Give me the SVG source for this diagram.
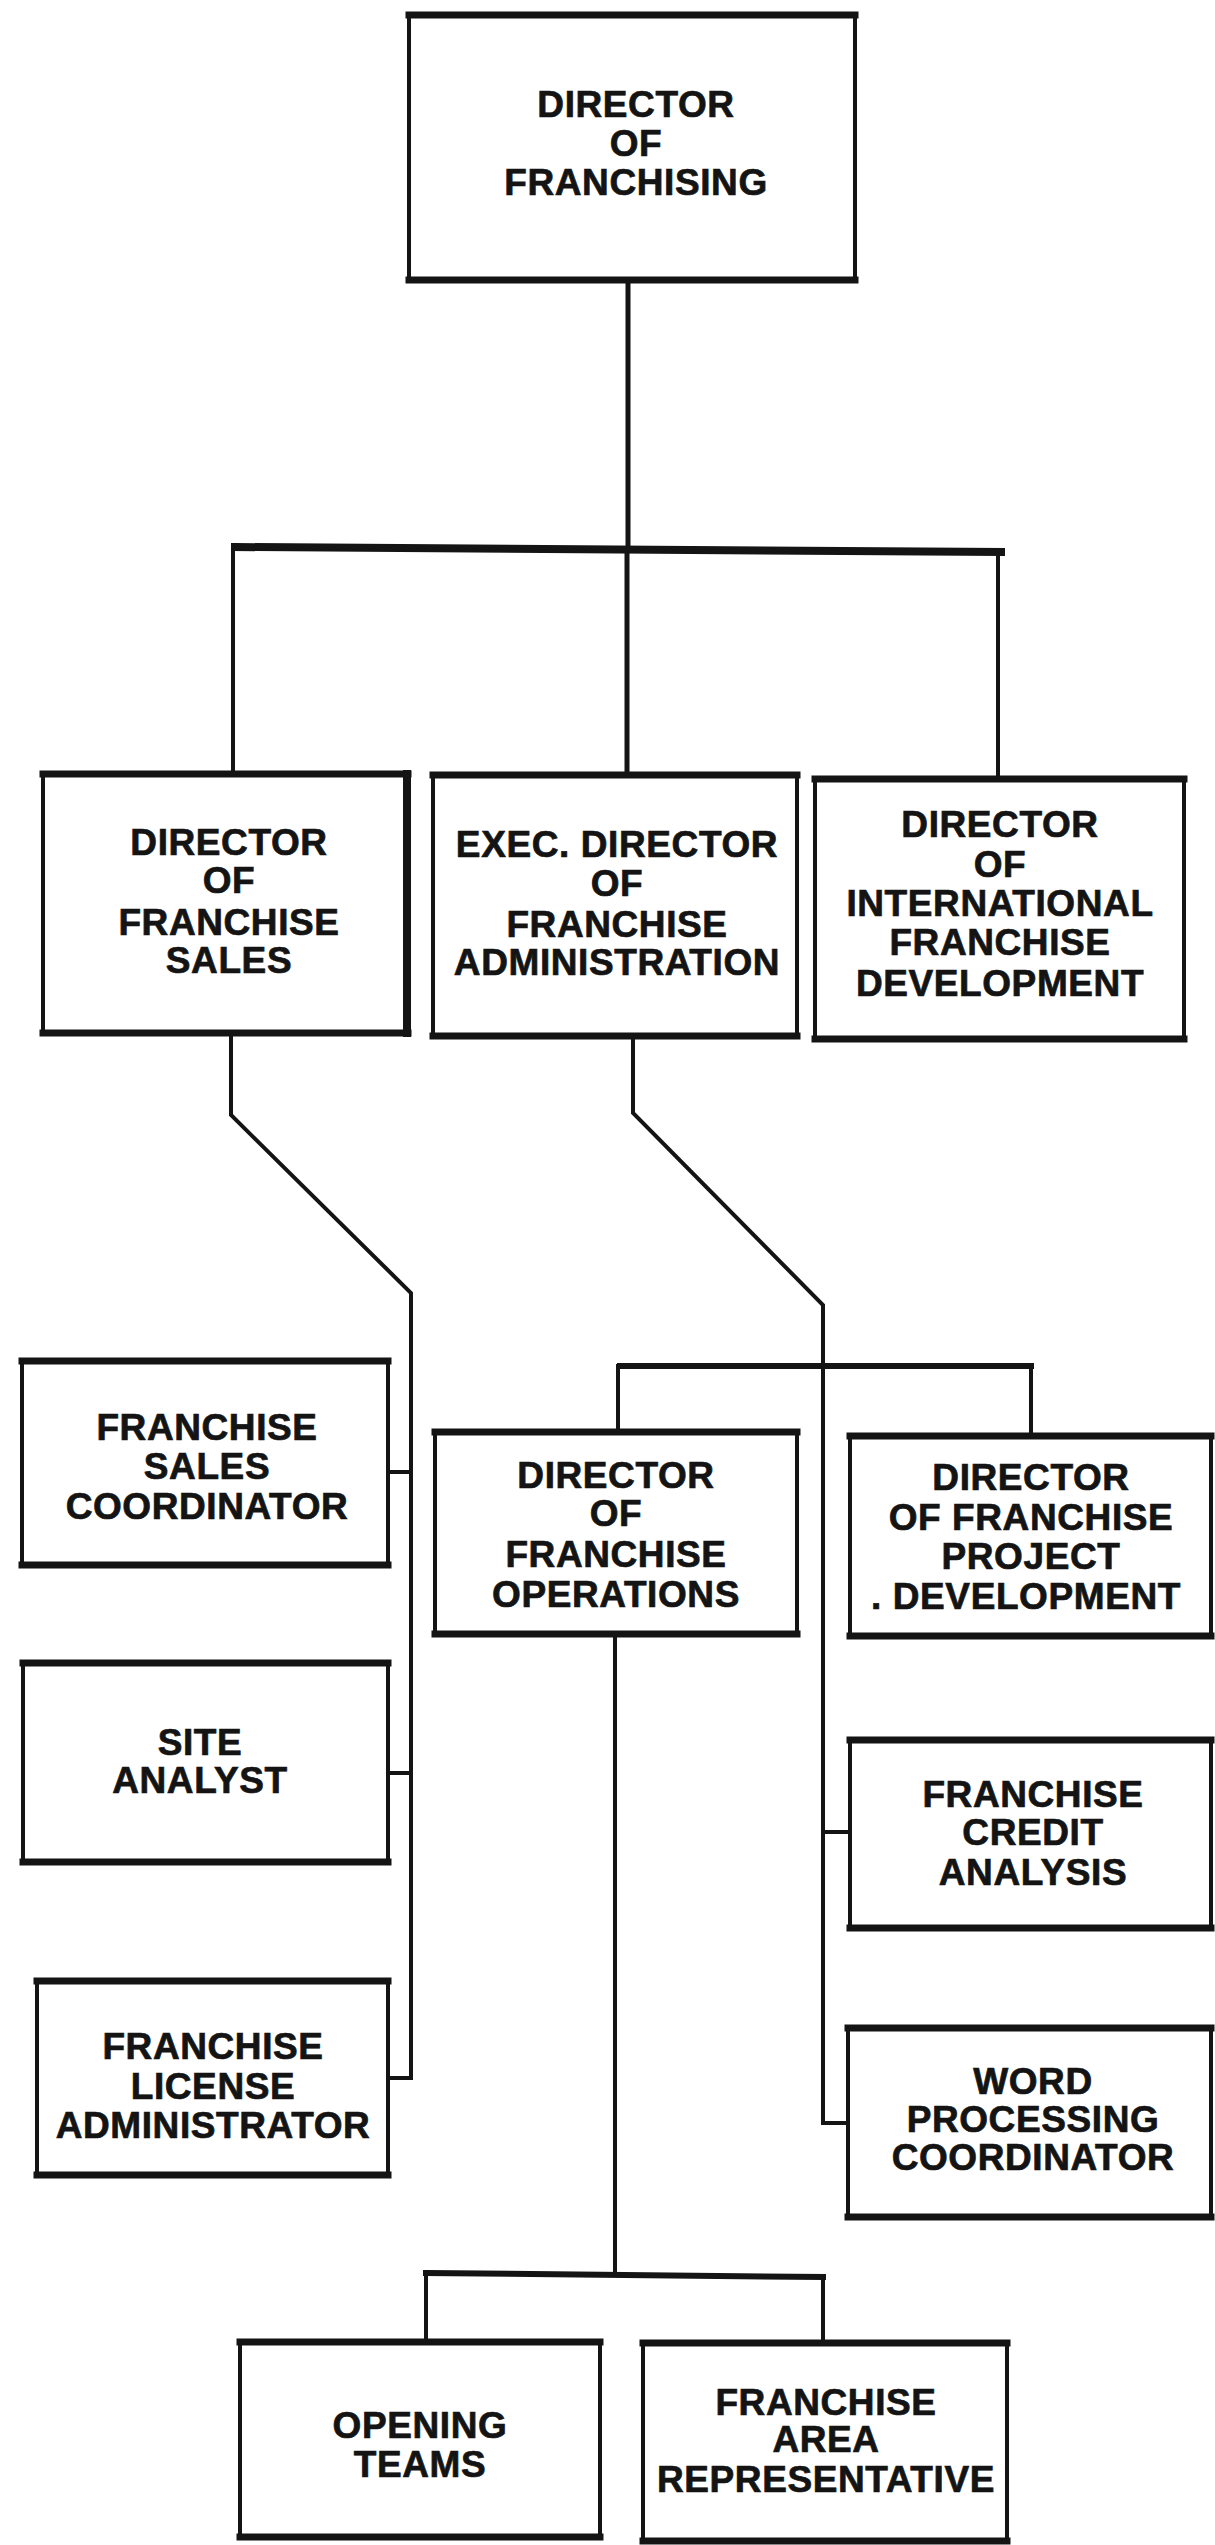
<svg xmlns="http://www.w3.org/2000/svg" width="1215" height="2545" viewBox="0 0 1215 2545">
  <style>
    .box rect { fill: #ffffff; stroke: #141414; stroke-width: 4; }
    .box .edge { fill: none; stroke: #141414; stroke-width: 7; stroke-linecap: square; }
    .box text { font-family: "Liberation Sans", Arial, Helvetica, sans-serif; font-weight: bold; font-size: 37px; letter-spacing: 0.6px; fill: #141414; stroke: #141414; stroke-width: 0.7; text-anchor: middle; }
    .wire { fill: none; stroke: #141414; stroke-width: 4; stroke-linejoin: miter; stroke-linecap: square; }
    .bar { fill: none; stroke: #141414; stroke-width: 6; stroke-linejoin: miter; stroke-linecap: square; }
  </style>
  <rect x="0" y="0" width="1215" height="2545" fill="#ffffff"/>

  <!-- connectors -->
  <g id="connectors">
    <path class="wire" d="M628 280 V549" style="stroke-width:5"/>
    <path class="bar" d="M235 547 L1001 552" style="stroke-width:8"/>
    <path class="wire" d="M233 547 V774"/>
    <path class="wire" d="M627 549 V775" style="stroke-width:5"/>
    <path class="wire" d="M998 552 V779"/>
    <!-- franchise sales branch -->
    <path class="wire" d="M231 1033 V1115 L411 1293 V2078 H390"/>
    <path class="wire" d="M389 1472 H411"/>
    <path class="wire" d="M389 1773 H411"/>
    <!-- franchise administration branch -->
    <path class="wire" d="M633 1036 V1113 L823 1305 V2123 H848"/>
    <path class="wire" d="M823 1832 H850"/>
    <path class="bar" d="M618 1432 V1366 H1031 V1436" style="stroke-width:4"/>
    <path class="wire" d="M620 1366 H1031" style="stroke-width:6"/>
    <!-- franchise operations branch -->
    <path class="wire" d="M615 1634 V2275"/>
    <path class="wire" d="M426 2342 V2273 L823 2277 V2343"/>
    <path class="wire" d="M426 2273 L823 2277" style="stroke-width:6"/>
  </g>

  <g id="director-franchising" class="box">
    <rect x="409" y="15" width="446" height="265"/>
    <path class="edge" d="M409 15 H855 M409 280 H855"/>
    <text x="636" y="117">DIRECTOR</text>
    <text x="636" y="156">OF</text>
    <text x="636" y="195">FRANCHISING</text>
  </g>

  <g id="director-franchise-sales" class="box">
    <rect x="43" y="774" width="365" height="259"/>
    <path class="edge" d="M43 774 H408 M43 1033 H408"/>
    <path class="edge" d="M407 774 V1033" style="stroke-width:8"/>
    <text x="229" y="855">DIRECTOR</text>
    <text x="229" y="893">OF</text>
    <text x="229" y="935">FRANCHISE</text>
    <text x="229" y="973">SALES</text>
  </g>

  <g id="exec-director-administration" class="box">
    <rect x="433" y="775" width="364" height="261"/>
    <path class="edge" d="M433 775 H797 M433 1036 H797"/>
    <text x="617" y="857">EXEC. DIRECTOR</text>
    <text x="617" y="896">OF</text>
    <text x="617" y="937">FRANCHISE</text>
    <text x="617" y="975">ADMINISTRATION</text>
  </g>

  <g id="director-international" class="box">
    <rect x="815" y="779" width="369" height="260"/>
    <path class="edge" d="M815 779 H1184 M815 1039 H1184"/>
    <text x="1000" y="837">DIRECTOR</text>
    <text x="1000" y="877">OF</text>
    <text x="1000" y="916">INTERNATIONAL</text>
    <text x="1000" y="955">FRANCHISE</text>
    <text x="1000" y="996">DEVELOPMENT</text>
  </g>

  <g id="franchise-sales-coordinator" class="box">
    <rect x="22" y="1361" width="366" height="204"/>
    <path class="edge" d="M22 1361 H388 M22 1565 H388"/>
    <text x="207" y="1440">FRANCHISE</text>
    <text x="207" y="1479">SALES</text>
    <text x="207" y="1519">COORDINATOR</text>
  </g>

  <g id="site-analyst" class="box">
    <rect x="23" y="1663" width="365" height="199"/>
    <path class="edge" d="M23 1663 H388 M23 1862 H388"/>
    <text x="200" y="1755">SITE</text>
    <text x="200" y="1793">ANALYST</text>
  </g>

  <g id="franchise-license-administrator" class="box">
    <rect x="37" y="1981" width="351" height="194"/>
    <path class="edge" d="M37 1981 H388 M37 2175 H388"/>
    <text x="213" y="2059">FRANCHISE</text>
    <text x="213" y="2099">LICENSE</text>
    <text x="213" y="2138">ADMINISTRATOR</text>
  </g>

  <g id="director-franchise-operations" class="box">
    <rect x="435" y="1432" width="362" height="202"/>
    <path class="edge" d="M435 1432 H797 M435 1634 H797"/>
    <text x="616" y="1488">DIRECTOR</text>
    <text x="616" y="1526">OF</text>
    <text x="616" y="1567">FRANCHISE</text>
    <text x="616" y="1607">OPERATIONS</text>
  </g>

  <g id="director-project-development" class="box">
    <rect x="850" y="1436" width="361" height="200"/>
    <path class="edge" d="M850 1436 H1211 M850 1636 H1211"/>
    <text x="1031" y="1490">DIRECTOR</text>
    <text x="1031" y="1530">OF FRANCHISE</text>
    <text x="1031" y="1569">PROJECT</text>
    <text x="1026" y="1609">. DEVELOPMENT</text>
  </g>

  <g id="franchise-credit-analysis" class="box">
    <rect x="850" y="1740" width="361" height="188"/>
    <path class="edge" d="M850 1740 H1211 M850 1928 H1211"/>
    <text x="1033" y="1807">FRANCHISE</text>
    <text x="1033" y="1845">CREDIT</text>
    <text x="1033" y="1885">ANALYSIS</text>
  </g>

  <g id="word-processing-coordinator" class="box">
    <rect x="848" y="2028" width="363" height="189"/>
    <path class="edge" d="M848 2028 H1211 M848 2217 H1211"/>
    <text x="1033" y="2094">WORD</text>
    <text x="1033" y="2132">PROCESSING</text>
    <text x="1033" y="2170">COORDINATOR</text>
  </g>

  <g id="opening-teams" class="box">
    <rect x="240" y="2342" width="360" height="195"/>
    <path class="edge" d="M240 2342 H600 M240 2537 H600"/>
    <text x="420" y="2438">OPENING</text>
    <text x="420" y="2477">TEAMS</text>
  </g>

  <g id="franchise-area-representative" class="box">
    <rect x="643" y="2343" width="364" height="198"/>
    <path class="edge" d="M643 2343 H1007 M643 2541 H1007"/>
    <text x="826" y="2415">FRANCHISE</text>
    <text x="826" y="2452">AREA</text>
    <text x="826" y="2492">REPRESENTATIVE</text>
  </g>
</svg>
